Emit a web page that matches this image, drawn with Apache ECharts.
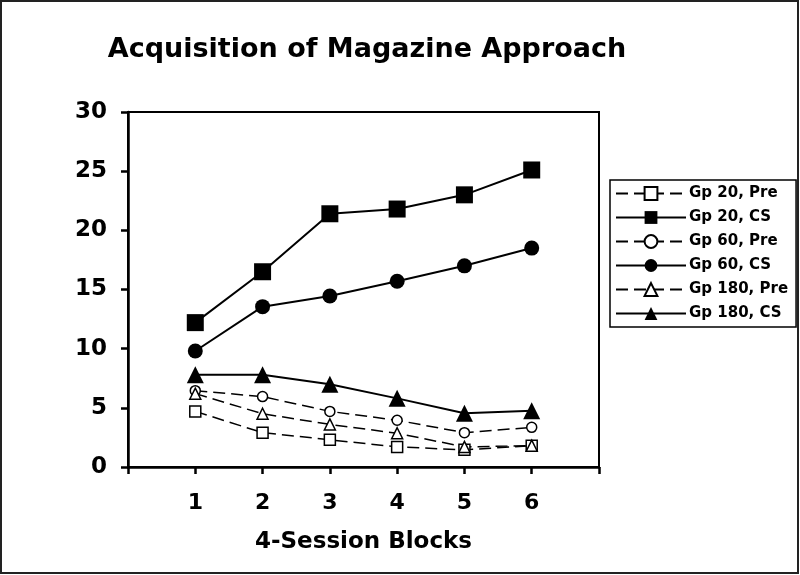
<!DOCTYPE html>
<html>
<head>
<meta charset="utf-8">
<script src="https://cdn.jsdelivr.net/npm/echarts@6/dist/echarts.min.js"></script>
<style>html,body{margin:0;padding:0;background:#fff}#c{width:800px;height:575px}</style>
</head>
<body>
<div id="c"></div>
<script>
var blocks = [1, 2, 3, 4, 5, 6];
var gp20Pre = [4.7, 2.9, 2.3, 1.7, 1.45, 1.8];
var gp20CS = [12.2, 16.5, 21.4, 21.8, 23.0, 25.1];
var gp60Pre = [6.45, 5.95, 4.7, 3.95, 2.9, 3.35];
var gp60CS = [9.8, 13.55, 14.45, 15.7, 17.0, 18.5];
var gp180Pre = [6.2, 4.5, 3.6, 2.85, 1.7, 1.8];
var gp180CS = [7.8, 7.8, 7.0, 5.8, 4.55, 4.75];
var seriesNames = ['Gp 20, Pre', 'Gp 20, CS', 'Gp 60, Pre', 'Gp 60, CS', 'Gp 180, Pre', 'Gp 180, CS'];

function pts(vals) { return vals.map(function (v, i) { return [blocks[i], v]; }); }
var FONT = 'Verdana, "DejaVu Sans", sans-serif';

function mk(name, vals, symbol, size, open) {
  return {
    name: name, type: 'line', data: pts(vals), symbol: symbol, symbolSize: size,
    z: open ? 3 : 4,
    lineStyle: { color: '#000', width: open ? 1.5 : 2, type: open ? [12, 6] : 'solid' },
    itemStyle: open ? { color: '#fff', borderColor: '#000', borderWidth: 1.5 } : { color: '#000', borderColor: '#000', borderWidth: 0 },
    emphasis: { disabled: true }, animation: false
  };
}

var chart = echarts.init(document.getElementById('c'), null, { renderer: 'canvas' });
chart.setOption({
  backgroundColor: '#fff',
  animation: false,
  title: {
    text: 'Acquisition of Magazine Approach', left: 362, top: 31, textAlign: 'center',
    textStyle: { fontFamily: FONT, fontWeight: 'bold', fontSize: 27, color: '#000' }
  },
  graphic: [{ type: 'rect', shape: { x: 1, y: 1, width: 797, height: 572 }, style: { fill: null, stroke: '#222', lineWidth: 2 }, silent: true }],
  grid: { left: 128, right: 201, top: 112, bottom: 108, show: true, borderColor: '#000', borderWidth: 2, backgroundColor: 'transparent' },
  legend: {
    orient: 'vertical', left: 610, top: 180,
    padding: [6, 8, 6, 5], itemWidth: 70, itemHeight: 16, itemGap: 9,
    borderColor: '#000', borderWidth: 1.5, backgroundColor: '#fff',
    data: seriesNames,
    textStyle: { fontFamily: FONT, fontWeight: 'bold', fontSize: 15, color: '#000', padding: [0, 0, 0, -2] }
  },
  xAxis: {
    type: 'value', min: 0, max: 7, interval: 1,
    name: '4-Session Blocks', nameLocation: 'middle', nameGap: 64,
    nameTextStyle: { fontFamily: FONT, fontWeight: 'bold', fontSize: 23, color: '#000' },
    axisLine: { show: true, lineStyle: { color: '#000', width: 2.5 } },
    axisTick: { show: true, inside: false, length: 7, lineStyle: { color: '#000', width: 2.5 } },
    axisLabel: { margin: 25, fontFamily: FONT, fontWeight: 'bold', fontSize: 22, color: '#000',
      formatter: function (v) { return (v >= 1 && v <= 6) ? String(v) : ''; } },
    splitLine: { show: false }
  },
  yAxis: {
    type: 'value', min: 0, max: 30, interval: 5,
    axisLine: { show: true, lineStyle: { color: '#000', width: 2.5 } },
    axisTick: { show: true, inside: false, length: 7, lineStyle: { color: '#000', width: 2.5 } },
    axisLabel: { margin: 21, fontFamily: FONT, fontWeight: 'bold', fontSize: 23, color: '#000' },
    splitLine: { show: false }
  },
  series: [
    mk(seriesNames[0], gp20Pre, 'rect', 11, true),
    mk(seriesNames[1], gp20CS, 'rect', 17, false),
    mk(seriesNames[2], gp60Pre, 'circle', 10, true),
    mk(seriesNames[3], gp60CS, 'circle', 15, false),
    mk(seriesNames[4], gp180Pre, 'triangle', 11, true),
    mk(seriesNames[5], gp180CS, 'triangle', 17, false)
  ]
});
</script>
</body>
</html>
